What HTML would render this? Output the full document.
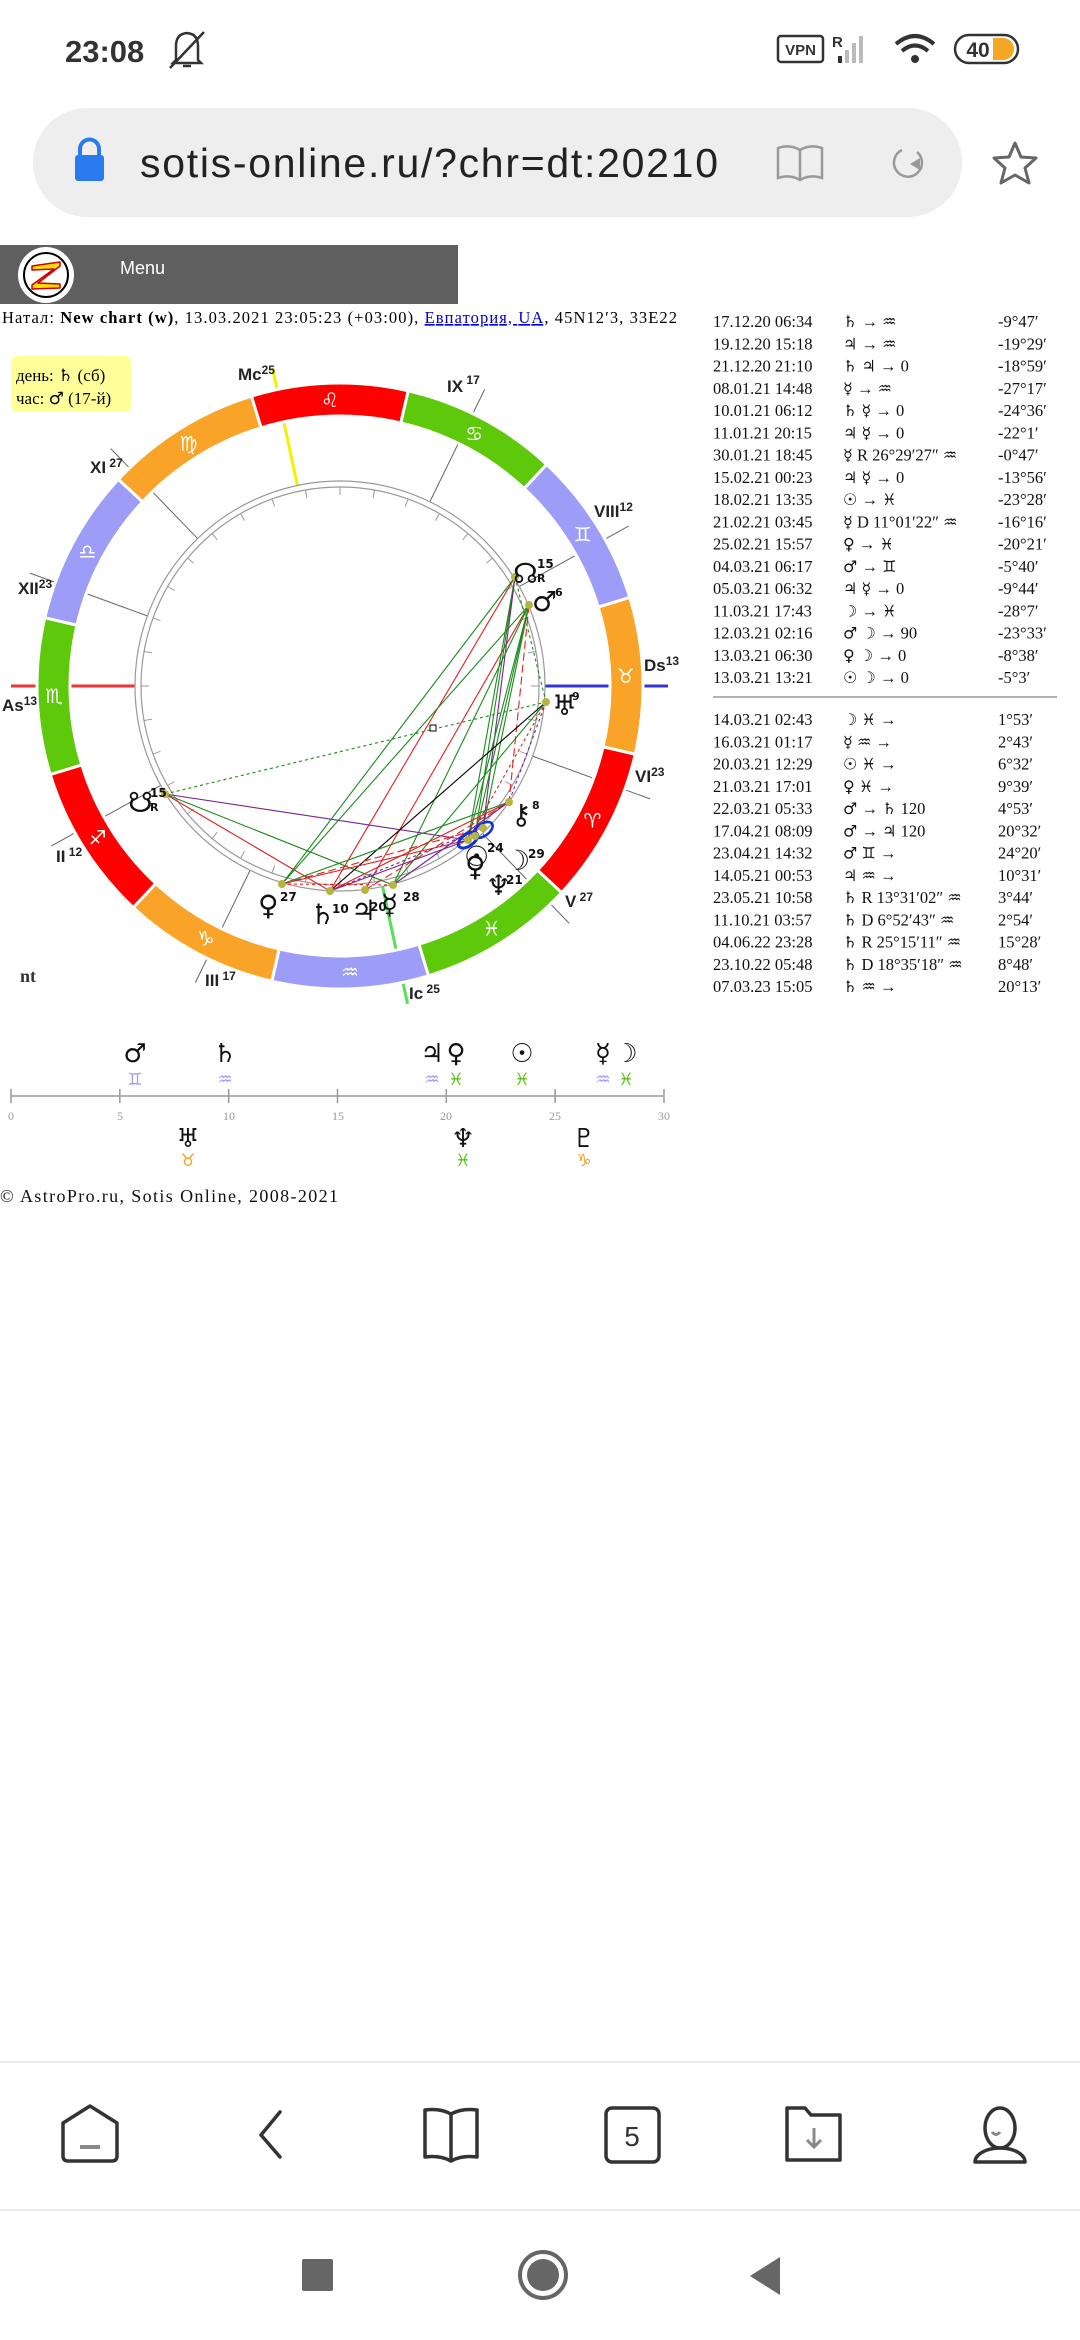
<!DOCTYPE html>
<html><head><meta charset="utf-8">
<style>
html,body{margin:0;padding:0;background:#fff;}
svg{display:block;}
.lib{font-family:"Liberation Serif","DejaVu Serif",serif;}
.sans{font-family:"Liberation Sans","DejaVu Sans",sans-serif;}
.dv{font-family:"DejaVu Sans","Liberation Sans",sans-serif;}
</style></head>
<body>
<svg id="s" width="1080" height="2340" viewBox="0 0 1080 2340" xmlns="http://www.w3.org/2000/svg">
<text x="65" y="62" class="sans" font-size="31" font-weight="bold" fill="#333">23:08</text>
<g stroke="#333" stroke-width="2.5" fill="none">
<path d="M176 60 L176 46 Q176 34 187 33 Q198 34 198 46 L198 60 L201 63 L173 63 Z"/>
<line x1="170" y1="68" x2="204" y2="32"/>
<line x1="183" y1="66" x2="191" y2="66"/>
</g>
<rect x="778" y="36" width="45" height="26" rx="3" fill="none" stroke="#333" stroke-width="2.5"/>
<text x="800.5" y="55" class="sans" font-size="15" font-weight="bold" fill="#333" text-anchor="middle">VPN</text>
<text x="832" y="47" class="sans" font-size="15" font-weight="bold" fill="#333">R</text>
<g fill="#333"><rect x="838" y="56" width="4" height="7"/></g>
<g fill="#bbb"><rect x="845" y="50" width="4" height="13"/><rect x="852" y="43" width="4" height="20"/><rect x="859" y="36" width="4" height="27"/></g>
<g fill="none" stroke="#333" stroke-width="4">
<path d="M896 44 Q915 28 934 44"/><path d="M902 51 Q915 40 928 51"/></g>
<circle cx="915" cy="59" r="4" fill="#333"/>
<rect x="955" y="35" width="63" height="28" rx="14" fill="none" stroke="#333" stroke-width="2.5"/>
<path d="M993 38 L1003 38 A11 11 0 0 1 1003 60 L993 60 Z" fill="#f5a623"/>
<text x="978" y="57" class="sans" font-size="21" font-weight="bold" fill="#333" text-anchor="middle">40</text>
<rect x="33" y="108" width="929" height="109" rx="54" fill="#eeeeee"/>
<rect x="75" y="155" width="29" height="26" rx="3" fill="#2b7bf0"/>
<path d="M80 157 L80 149 A9.5 9.5 0 0 1 99 149 L99 157" fill="none" stroke="#2b7bf0" stroke-width="4"/>
<text x="140" y="177" class="sans" font-size="41" fill="#222" textLength="578">sotis-online.ru/?chr=dt:20210</text>
<g fill="none" stroke="#999" stroke-width="2.5">
<path d="M778 148 Q790 144 800 150 Q810 144 822 148 L822 178 Q810 174 800 180 Q790 174 778 178 Z"/><line x1="800" y1="150" x2="800" y2="180"/>
<path d="M917 152 A14 14 0 1 1 902 150"/></g>
<path d="M920 170 L920 158 L910 164 Z" fill="#999"/>
<path d="M1015 143 L1021 157 L1036 158 L1025 168 L1029 183 L1015 175 L1001 183 L1005 168 L994 158 L1009 157 Z" fill="none" stroke="#666" stroke-width="3" stroke-linejoin="round"/>
<rect x="0" y="245" width="458" height="59" fill="#5f5f5f"/>
<circle cx="46" cy="275" r="28" fill="#fff"/>
<circle cx="46" cy="275" r="22" fill="#fff" stroke="#000" stroke-width="2"/>
<path d="M32 266 L60 262 L60 266 L38 283 L60 284 L60 288 L32 289 L32 285 L54 269 L32 270 Z" fill="#ffe000" stroke="#cc0000" stroke-width="1.5" stroke-linejoin="round"/>
<text x="120" y="274" class="sans" font-size="18" fill="#fff">Menu</text>
<text x="2" y="323" class="lib" font-size="16.5" fill="#000" textLength="675">Натал: <tspan font-weight="bold">New chart (w)</tspan>, 13.03.2021 23:05:23 (+03:00), <tspan fill="#0000cc" text-decoration="underline">Евпатория, UA</tspan>, 45N12′3, 33E22</text>
<rect x="11" y="356" width="120" height="56" rx="6" fill="#ffff99"/>
<text x="16" y="381" class="lib" font-size="17">день: <tspan class="dv" font-weight="bold">♄</tspan> (сб)</text>
<text x="16" y="404" class="lib" font-size="17">час: <tspan class="dv" font-weight="bold">♂</tspan> (17-й)</text>

<g id="wheel"></g>

<g class="sans" font-weight="bold" font-size="17" fill="#222">
<text x="238" y="380">Mc<tspan font-size="12" dy="-6">25</tspan></text>
<text x="447" y="392">IX<tspan font-size="12" dy="-8"> 17</tspan></text>
<text x="594" y="517">VIII<tspan font-size="12" dy="-6">12</tspan></text>
<text x="644" y="671">Ds<tspan font-size="12" dy="-6">13</tspan></text>
<text x="635" y="782">VI<tspan font-size="12" dy="-6">23</tspan></text>
<text x="565" y="907">V<tspan font-size="12" dy="-6"> 27</tspan></text>
<text x="409" y="999">Ic<tspan font-size="12" dy="-6"> 25</tspan></text>
<text x="205" y="986">III<tspan font-size="12" dy="-6"> 17</tspan></text>
<text x="56" y="862">II<tspan font-size="12" dy="-6"> 12</tspan></text>
<text x="2" y="711">As<tspan font-size="12" dy="-6">13</tspan></text>
<text x="18" y="594">XII<tspan font-size="12" dy="-6">23</tspan></text>
<text x="90" y="473">XI<tspan font-size="12" dy="-6"> 27</tspan></text>
</g>
<text x="20" y="982" class="lib" font-weight="bold" font-size="18" fill="#333">nt</text>

<g class="dv" font-weight="bold" font-size="28" fill="#111">
<text x="513" y="583">☊</text><text x="537" y="568" font-size="12">15</text><text x="537" y="582" font-size="11">R</text>
<text x="532" y="611">♂</text><text x="555" y="596" font-size="11">6</text>
<text x="552" y="715">♅</text><text x="572" y="700" font-size="11">9</text>
<text x="128" y="812">☋</text><text x="150" y="797" font-size="12">15</text><text x="150" y="811" font-size="11">R</text>
<text x="511" y="824">⚷</text><text x="532" y="809" font-size="11">8</text>
<text x="258" y="915">♀</text><text x="280" y="901" font-size="12">27</text>
<text x="310" y="924">♄</text><text x="332" y="913" font-size="12">10</text>
<text x="351" y="920">♃</text><text x="370" y="911" font-size="12">20</text>
<text x="381" y="914">☿</text><text x="403" y="901" font-size="12">28</text>
<text x="464" y="866">☉</text><text x="465" y="876">♀</text><text x="487" y="852" font-size="12">24</text>
<text x="505" y="870">☽</text><text x="528" y="858" font-size="12">29</text>
<text x="486" y="895">♆</text><text x="506" y="884" font-size="12">21</text>
</g>

<line x1="11" y1="1096" x2="664" y2="1096" stroke="#999" stroke-width="1.5"/>
<g id="ticks"></g>
<g class="lib" font-size="12" fill="#999" text-anchor="middle">
<text x="11" y="1120">0</text><text x="120" y="1120">5</text><text x="229" y="1120">10</text><text x="338" y="1120">15</text><text x="446" y="1120">20</text><text x="555" y="1120">25</text><text x="664" y="1120">30</text></g>
<g class="dv" font-weight="bold" font-size="26" fill="#111" text-anchor="middle">
<text x="135" y="1062">♂</text><text x="225" y="1062">♄</text><text x="432" y="1062">♃</text><text x="456" y="1062">♀</text><text x="522" y="1062">☉</text><text x="603" y="1062">☿</text><text x="626" y="1062">☽</text>
<text x="188" y="1147">♅</text><text x="463" y="1147">♆</text><text x="584" y="1147">♇</text></g>
<g class="dv" font-size="17" text-anchor="middle">
<text x="135" y="1085" fill="#9999ff">♊&#xFE0E;</text><text x="225" y="1085" fill="#9999ff">♒&#xFE0E;</text><text x="432" y="1085" fill="#9999ff">♒&#xFE0E;</text><text x="456" y="1085" fill="#55c010">♓&#xFE0E;</text><text x="522" y="1085" fill="#55c010">♓&#xFE0E;</text><text x="603" y="1085" fill="#9999ff">♒&#xFE0E;</text><text x="626" y="1085" fill="#55c010">♓&#xFE0E;</text>
<text x="188" y="1166" fill="#f5a020">♉&#xFE0E;</text><text x="463" y="1166" fill="#55c010">♓&#xFE0E;</text><text x="584" y="1166" fill="#f5a020">♑&#xFE0E;</text></g>
<text x="0" y="1202" class="lib" font-size="18" fill="#111" textLength="338">© AstroPro.ru, Sotis Online, 2008-2021</text>

<g class="lib" font-size="16.5" fill="#111" style="white-space:pre" id="tbl"></g>
<line x1="713" y1="697" x2="1057" y2="697" stroke="#999" stroke-width="1.5"/>

<line x1="0" y1="2062" x2="1080" y2="2062" stroke="#e4e4e4" stroke-width="1.5"/>
<line x1="0" y1="2210" x2="1080" y2="2210" stroke="#e4e4e4" stroke-width="1.5"/>
<g fill="none" stroke="#333" stroke-width="3.5" stroke-linejoin="round" stroke-linecap="round">
<path d="M63 2123 L90 2106 L117 2123 L117 2156 Q117 2161 112 2161 L68 2161 Q63 2161 63 2156 Z" />
<path d="M280 2112 L261 2135 L280 2157"/>
<path d="M425 2110 Q440 2108 451 2114 Q462 2108 477 2110 L477 2157 Q462 2155 451 2161 Q440 2155 425 2157 Z"/><line x1="451" y1="2114" x2="451" y2="2161"/>
<rect x="606" y="2108" width="53" height="54" rx="6"/>
<path d="M787 2108 L805 2108 L811 2115 L840 2115 L840 2160 L787 2160 Z"/>
<path d="M1000 2148 A12 16 0 1 1 1000 2108 A12 16 0 1 1 1000 2148"/>
<path d="M975 2162 A25 14 0 0 1 1025 2162 Z"/>
</g>
<line x1="80" y1="2147" x2="100" y2="2147" stroke="#888" stroke-width="4"/>
<text x="632" y="2146" class="sans" font-size="28" fill="#333" text-anchor="middle">5</text>
<path d="M814 2128 L814 2146 M807 2140 L814 2147 L821 2140" fill="none" stroke="#888" stroke-width="3"/>
<path d="M992 2132 Q996 2137 1000 2132" fill="none" stroke="#888" stroke-width="3"/>
<rect x="302" y="2259" width="31" height="32" rx="2" fill="#666"/>
<circle cx="543" cy="2275" r="23" fill="none" stroke="#666" stroke-width="4"/>
<circle cx="543" cy="2275" r="16" fill="#666"/>
<path d="M750 2276 L780 2257 L780 2295 Z" fill="#666"/>
</svg>
<script>
(function(){
var NS="http://www.w3.org/2000/svg";
var W=document.getElementById('wheel');
var cx=340,cy=686;
function P(r,a){a=a*Math.PI/180;return [cx+r*Math.cos(a),cy-r*Math.sin(a)];}
function el(t,at,p){var e=document.createElementNS(NS,t);for(var k in at)e.setAttribute(k,at[k]);(p||W).appendChild(e);return e;}
var cusps=[[102,'#f5f000',3,205,325],[282,'#55e055',3,205,325],[134,'#666',1,205,330],[160,'#666',1,205,330],[209,'#666',1,205,330],[244,'#666',1,205,330],[64,'#666',1,205,330],[29,'#666',1,205,330],[-20,'#666',1,205,330],[314,'#666',1,205,330]];
cusps.forEach(function(c){var a=P(c[3],c[0]),b=P(c[4],c[0]);el('line',{x1:a[0],y1:a[1],x2:b[0],y2:b[1],stroke:c[1],'stroke-width':c[2]});});
el('line',{x1:11,y1:686,x2:135,y2:686,stroke:'#ee3333','stroke-width':3});
el('line',{x1:545,y1:686,x2:668,y2:686,stroke:'#3333dd','stroke-width':3});
var cols=['#ff0000','#f9a428','#9d9df8','#5ec80a'];
var gl=['♈','♉','♊','♋','♌','♍','♎','♏','♐','♑','♒','♓'];
for(var k=0;k<12;k++){
 var a0=30*k-43,a1=a0+30;
 var p1=P(303,a0),p2=P(303,a1),p3=P(270,a1),p4=P(270,a0);
 el('path',{d:'M'+p1+' A303 303 0 0 0 '+p2+' L'+p3+' A270 270 0 0 1 '+p4+' Z',fill:cols[k%4],stroke:'#fff','stroke-width':3});
 var m=P(286,a0+15);
 var t=el('text',{x:m[0],y:m[1]+7,'font-size':20,fill:'#fff','text-anchor':'middle','font-family':'DejaVu Sans,sans-serif'});t.textContent=gl[k]+'\uFE0E';
}
el('circle',{cx:cx,cy:cy,r:205,fill:'none',stroke:'#999','stroke-width':1.2});
el('circle',{cx:cx,cy:cy,r:199,fill:'none',stroke:'#999','stroke-width':1.2});
for(var d=0;d<360;d+=10){var q=-43+d+3;var a=P(199,q),b=P(191,q);el('line',{x1:a[0],y1:a[1],x2:b[0],y2:b[1],stroke:'#999','stroke-width':1});}
var pt={N:[515,577],Ma:[529,605],U:[546,702],S:[165,794],Ch:[509,802],Ve:[282,884],Sa:[330,891],Ju:[365,890],Me:[393,885],Su:[468,840],Mo:[483,828],Ne:[475,836]};
var asp=[['N','Sa','red',''],['Ma','Ju','red',''],['N','Ve','green',''],['N','Su','green',''],['N','Ne','green',''],['N','Mo','purple',''],['Ma','Su','green',''],['Ma','Ne','green',''],['Ma','Mo','green',''],['Ma','Me','green',''],['N','U','green','3,3'],['Ma','Ch','red','8,4'],['S','U','green','3,3'],['S','Sa','red',''],['S','Me','green',''],['S','Su','purple',''],['U','Sa','black',''],['U','Me','green',''],['U','Ch','purple','3,3'],['U','Su','red','3,3'],['Ve','Ch','green',''],['Ve','Su','red',''],['Sa','Ch','red',''],['Sa','Su','purple',''],['Ju','Ch','red','8,4'],['Ve','Mo','red','8,4'],['Sa','Mo','purple','3,3'],['Me','Ch','purple',''],['Ve','Me','red','3,3'],['Ma','Ve','green','']];
asp.forEach(function(s){var a=pt[s[0]],b=pt[s[1]];el('line',{x1:a[0],y1:a[1],x2:b[0],y2:b[1],stroke:s[2]=='green'?'#1a8a1a':s[2]=='red'?'#e02020':s[2]=='purple'?'#7a2090':'#000','stroke-width':1.1,'stroke-dasharray':s[3]});});
el('ellipse',{cx:468,cy:840,rx:11,ry:6,fill:'none',stroke:'#1030e0','stroke-width':3,transform:'rotate(-35 468 840)'});
el('ellipse',{cx:483,cy:830,rx:11,ry:6,fill:'none',stroke:'#1030e0','stroke-width':2.5,transform:'rotate(-35 483 830)'});
el('rect',{x:430,y:725,width:6,height:6,fill:'#fff',stroke:'#000'});
for(var key in pt){el('circle',{cx:pt[key][0],cy:pt[key][1],r:4,fill:'#b5b540'});}
var T=document.getElementById('ticks');
for(var i=0;i<=6;i++){var x=11+i*108.83;el('line',{x1:x,y1:1089,x2:x,y2:1103,stroke:'#999','stroke-width':1.5},T);}
var rows=[["17.12.20 06:34","♄   → ♒","-9°47′"],["19.12.20 15:18","♃   → ♒","-19°29′"],["21.12.20 21:10","♄  ♃   → 0","-18°59′"],["08.01.21 14:48","☿   → ♒","-27°17′"],["10.01.21 06:12","♄  ☿   → 0","-24°36′"],["11.01.21 20:15","♃  ☿   → 0","-22°1′"],["30.01.21 18:45","☿ R 26°29′27″ ♒","-0°47′"],["15.02.21 00:23","♃  ☿ → 0","-13°56′"],["18.02.21 13:35","☉   → ♓","-23°28′"],["21.02.21 03:45","☿  D 11°01′22″ ♒","-16°16′"],["25.02.21 15:57","♀   → ♓","-20°21′"],["04.03.21 06:17","♂   → ♊","-5°40′"],["05.03.21 06:32","♃  ☿   → 0","-9°44′"],["11.03.21 17:43","☽   → ♓","-28°7′"],["12.03.21 02:16","♂  ☽   → 90","-23°33′"],["13.03.21 06:30","♀  ☽   → 0","-8°38′"],["13.03.21 13:21","☉  ☽   → 0","-5°3′"]];
var rows2=[["14.03.21 02:43","☽  ♓ →","1°53′"],["16.03.21 01:17","☿  ♒ →","2°43′"],["20.03.21 12:29","☉  ♓ →","6°32′"],["21.03.21 17:01","♀  ♓ →","9°39′"],["22.03.21 05:33","♂   → ♄  120","4°53′"],["17.04.21 08:09","♂   → ♃  120","20°32′"],["23.04.21 14:32","♂  ♊ →","24°20′"],["14.05.21 00:53","♃  ♒ →","10°31′"],["23.05.21 10:58","♄ R 13°31′02″ ♒","3°44′"],["11.10.21 03:57","♄  D 6°52′43″ ♒","2°54′"],["04.06.22 23:28","♄ R 25°15′11″ ♒","15°28′"],["23.10.22 05:48","♄  D 18°35′18″ ♒","8°48′"],["07.03.23 15:05","♄  ♒ →","20°13′"]];
var G=document.getElementById('tbl');
function row(r,y){var t=el('text',{x:713,y:y},G);t.textContent=r[0];
 t=el('text',{x:843,y:y},G);
 var s=r[1];
 for(var j=0;j<s.length;j++){var c=s.charAt(j);var code=c.charCodeAt(0);
  var sp=el('tspan',{},t);
  if(code>=0x2600 && code<0x2700){sp.setAttribute('font-family','DejaVu Sans, sans-serif');sp.setAttribute('font-weight','bold');sp.setAttribute('font-size','16');sp.textContent=(code>=0x2648 && code<=0x2653)?c+'\uFE0E':c;}
  else sp.textContent=c;}
 t=el('text',{x:998,y:y},G);t.textContent=r[2];}
rows.forEach(function(r,i){row(r,327+i*22.25);});
rows2.forEach(function(r,i){row(r,725+i*22.25);});
})();
</script>
</body></html>
